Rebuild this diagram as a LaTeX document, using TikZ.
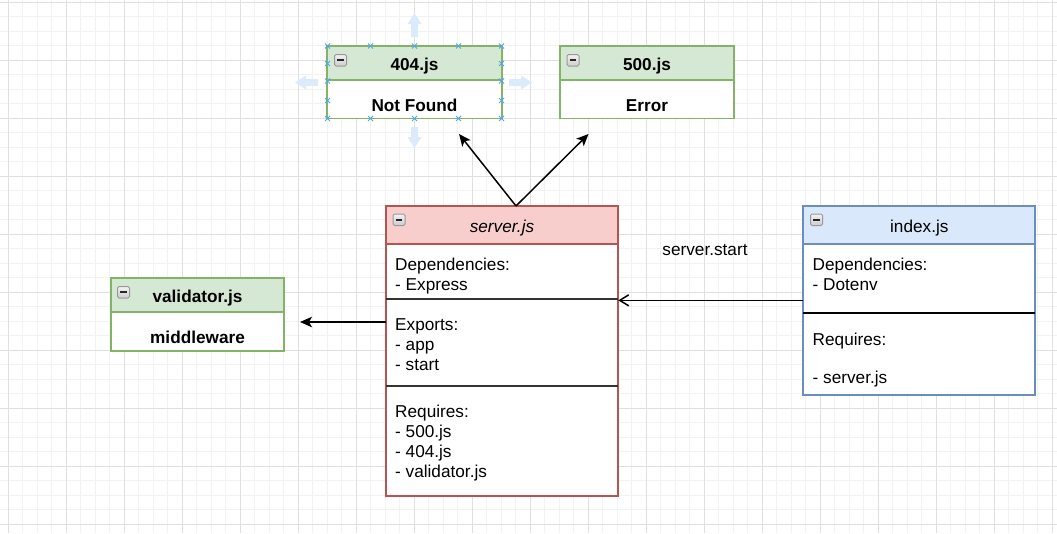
\documentclass[tikz,border=0pt]{standalone}
\usepackage{fontspec}
\setmainfont{Liberation Sans}
\usetikzlibrary{arrows.meta,calc}
\definecolor{gridminor}{HTML}{F2F2F2}
\definecolor{gridmajor}{HTML}{E0E0E0}
\definecolor{grnF}{HTML}{D5E8D4}
\definecolor{grnS}{HTML}{82B366}
\definecolor{redF}{HTML}{F8CECC}
\definecolor{redS}{HTML}{B85450}
\definecolor{bluF}{HTML}{DAE8FC}
\definecolor{bluS}{HTML}{6C8EBF}
\definecolor{handlecol}{HTML}{4FA8E8}
\definecolor{hovercol}{HTML}{DCEBFB}
\definecolor{divcol}{HTML}{333333}
\begin{document}
\begin{tikzpicture}[x=1pt,y=-1pt,
  box/.style={rectangle, line width=1.9pt, inner sep=0pt, outer sep=0pt, anchor=north west},
  txt/.style={font=\fontsize{17.2}{20}\selectfont, inner sep=0pt, anchor=base west},
  ctxt/.style={font=\fontsize{17.2}{20}\selectfont, inner sep=0pt, anchor=base},
  ttl/.style={font=\fontsize{17.2}{20}\selectfont\bfseries, inner sep=0pt, anchor=base},
  icon/.style={rectangle, anchor=north west, minimum width=12pt, minimum height=11.5pt, inner sep=0pt,
    rounded corners=1.5pt, draw=gray!80, line width=1pt, top color=gray!10, bottom color=gray!40,
    path picture={\draw[line width=1.6pt, black!85] ([xshift=2.8pt]path picture bounding box.west) -- ([xshift=-2.8pt]path picture bounding box.east);}},
  arr/.style={line width=1.5pt, -{Stealth[length=12pt,width=10.5pt,inset=3pt]}},
  openarr/.style={line width=1.5pt, -{Straight Barb[length=9pt,width=11pt]}},
  divider/.style={line width=1.9pt, divcol},
  handle/.style={handlecol, line width=0.9pt},
  hover/.style={fill=hovercol}
]
\useasboundingbox (0,0) rectangle (1057,533);
\fill[white] (0,0) rectangle (1057,533);
% grid
\foreach \i in {0,...,72} {\draw[gridminor, line width=0.8pt] ({8.3+14.5*\i},0) -- ({8.3+14.5*\i},533);}
\foreach \j in {0,...,36} {\draw[gridminor, line width=0.8pt] (0,{2.3+14.5*\j}) -- (1057,{2.3+14.5*\j});}
\foreach \i in {0,...,18} {\draw[gridmajor, line width=0.9pt] ({8.3+58*\i},0) -- ({8.3+58*\i},533);}
\foreach \j in {0,...,9} {\draw[gridmajor, line width=0.9pt] (0,{2.3+58*\j}) -- (1057,{2.3+58*\j});}

% hover arrows around 404.js
\fill[hover] (414.5,13) -- (421.5,24) -- (418,24) -- (418,37) -- (411,37) -- (411,24) -- (407.5,24) -- cycle;
\fill[hover] (414.5,148) -- (421.5,137) -- (418,137) -- (418,127) -- (411,127) -- (411,137) -- (407.5,137) -- cycle;
\fill[hover] (295,82.5) -- (306,75.5) -- (306,79) -- (318,79) -- (318,86) -- (306,86) -- (306,89.5) -- cycle;
\fill[hover] (532,82.5) -- (521,75.5) -- (521,79) -- (509,79) -- (509,86) -- (521,86) -- (521,89.5) -- cycle;

% 404.js
\node[box, draw=grnS, fill=white, minimum width=174.5pt, minimum height=72.5pt] (b404) at (327.3,46) {};
\node[box, draw=grnS, fill=grnF, minimum width=174.5pt, minimum height=34pt] (h404) at (327.3,46) {};
\node[icon] (i404) at (334,54) {};
\node[ttl] (t404) at (414.5,70) {404.js};
\node[ttl] (s404) at (414.5,111) {Not Found};

% 500.js
\node[box, draw=grnS, fill=white, minimum width=173.7pt, minimum height=72.5pt] (b500) at (560,46) {};
\node[box, draw=grnS, fill=grnF, minimum width=173.7pt, minimum height=34pt] (h500) at (560,46) {};
\node[icon] (i500) at (566.5,54) {};
\node[ttl] (t500) at (647,70) {500.js};
\node[ttl] (s500) at (647,111) {Error};

% validator.js
\node[box, draw=grnS, fill=white, minimum width=173.5pt, minimum height=72.5pt] (bval) at (110.7,278.3) {};
\node[box, draw=grnS, fill=grnF, minimum width=173.5pt, minimum height=33.7pt] (hval) at (110.7,278.3) {};
\node[icon] (ival) at (117,286) {};
\node[ttl] (tval) at (197.5,302) {validator.js};
\node[ttl] (sval) at (197.5,343) {middleware};

% server.js
\node[box, draw=redS, fill=white, minimum width=232.6pt, minimum height=290pt] (srv) at (385.7,206) {};
\node[box, draw=redS, fill=redF, minimum width=232.6pt, minimum height=37.7pt] (hsrv) at (385.7,206) {};
\node[icon] (isrv) at (392.5,213.5) {};
\node[ctxt] (tsrv) at (502,232) {\itshape server.js};
\draw[divider] (srv.west |- 0,299) -- (srv.east |- 0,299);
\draw[divider] (srv.west |- 0,385.7) -- (srv.east |- 0,385.7);
\node[txt] (sd1) at (395,270) {Dependencies:};
\node[txt] (sd2) at (395,290) {- Express};
\node[txt] (se1) at (395,330.5) {Exports:};
\node[txt] (se2) at (395,350.5) {- app};
\node[txt] (se3) at (395,370.5) {- start};
\node[txt] (sr1) at (395,417) {Requires:};
\node[txt] (sr2) at (395,437) {- 500.js};
\node[txt] (sr3) at (395,457) {- 404.js};
\node[txt] (sr4) at (395,477) {- validator.js};

% index.js
\node[box, draw=bluS, fill=white, minimum width=232pt, minimum height=188.7pt] (idx) at (803.3,206) {};
\node[box, draw=bluS, fill=bluF, minimum width=232pt, minimum height=37.7pt] (hidx) at (803.3,206) {};
\node[icon] (iidx) at (810,213.5) {};
\node[ctxt] (tidx) at (919.3,232) {index.js};
\draw[line width=1.6pt, black] (idx.west |- 0,313) -- (idx.east |- 0,313);
\node[txt] (id1) at (812.5,270) {Dependencies:};
\node[txt] (id2) at (812.5,290) {- Dotenv};
\node[txt] (ir1) at (812.5,345.5) {Requires:};
\node[txt] (ir2) at (812.5,383.5) {- server.js};

% selection handles on 404.js
\foreach \x in {327.5,370.5,414.5,458.5,501.5} {
  \foreach \y in {46,118.5} {
    \draw[handle] (\x-2.5,\y-2.5) -- (\x+2.5,\y+2.5) (\x-2.5,\y+2.5) -- (\x+2.5,\y-2.5);
  }
}
\foreach \x in {327.5,501.5} {
  \foreach \y in {63.5,81,100.5} {
    \draw[handle] (\x-2.5,\y-2.5) -- (\x+2.5,\y+2.5) (\x-2.5,\y+2.5) -- (\x+2.5,\y-2.5);
  }
}

% connectors
\coordinate (srvtop) at (516,206);
\coordinate (tip404) at (459,134);
\coordinate (tip500) at (588.5,134);
\coordinate (tipval) at (300,322);
\draw[arr] (srvtop) -- (tip404);
\draw[arr] (srvtop) -- (tip500);
\draw[arr] (srv.west |- tipval) -- (tipval);
\draw[openarr] (idx.west) -- (srv.east |- idx.west);
\node[ctxt] (lbl) at (705,255.7) {server.start};
\end{tikzpicture}
\end{document}
